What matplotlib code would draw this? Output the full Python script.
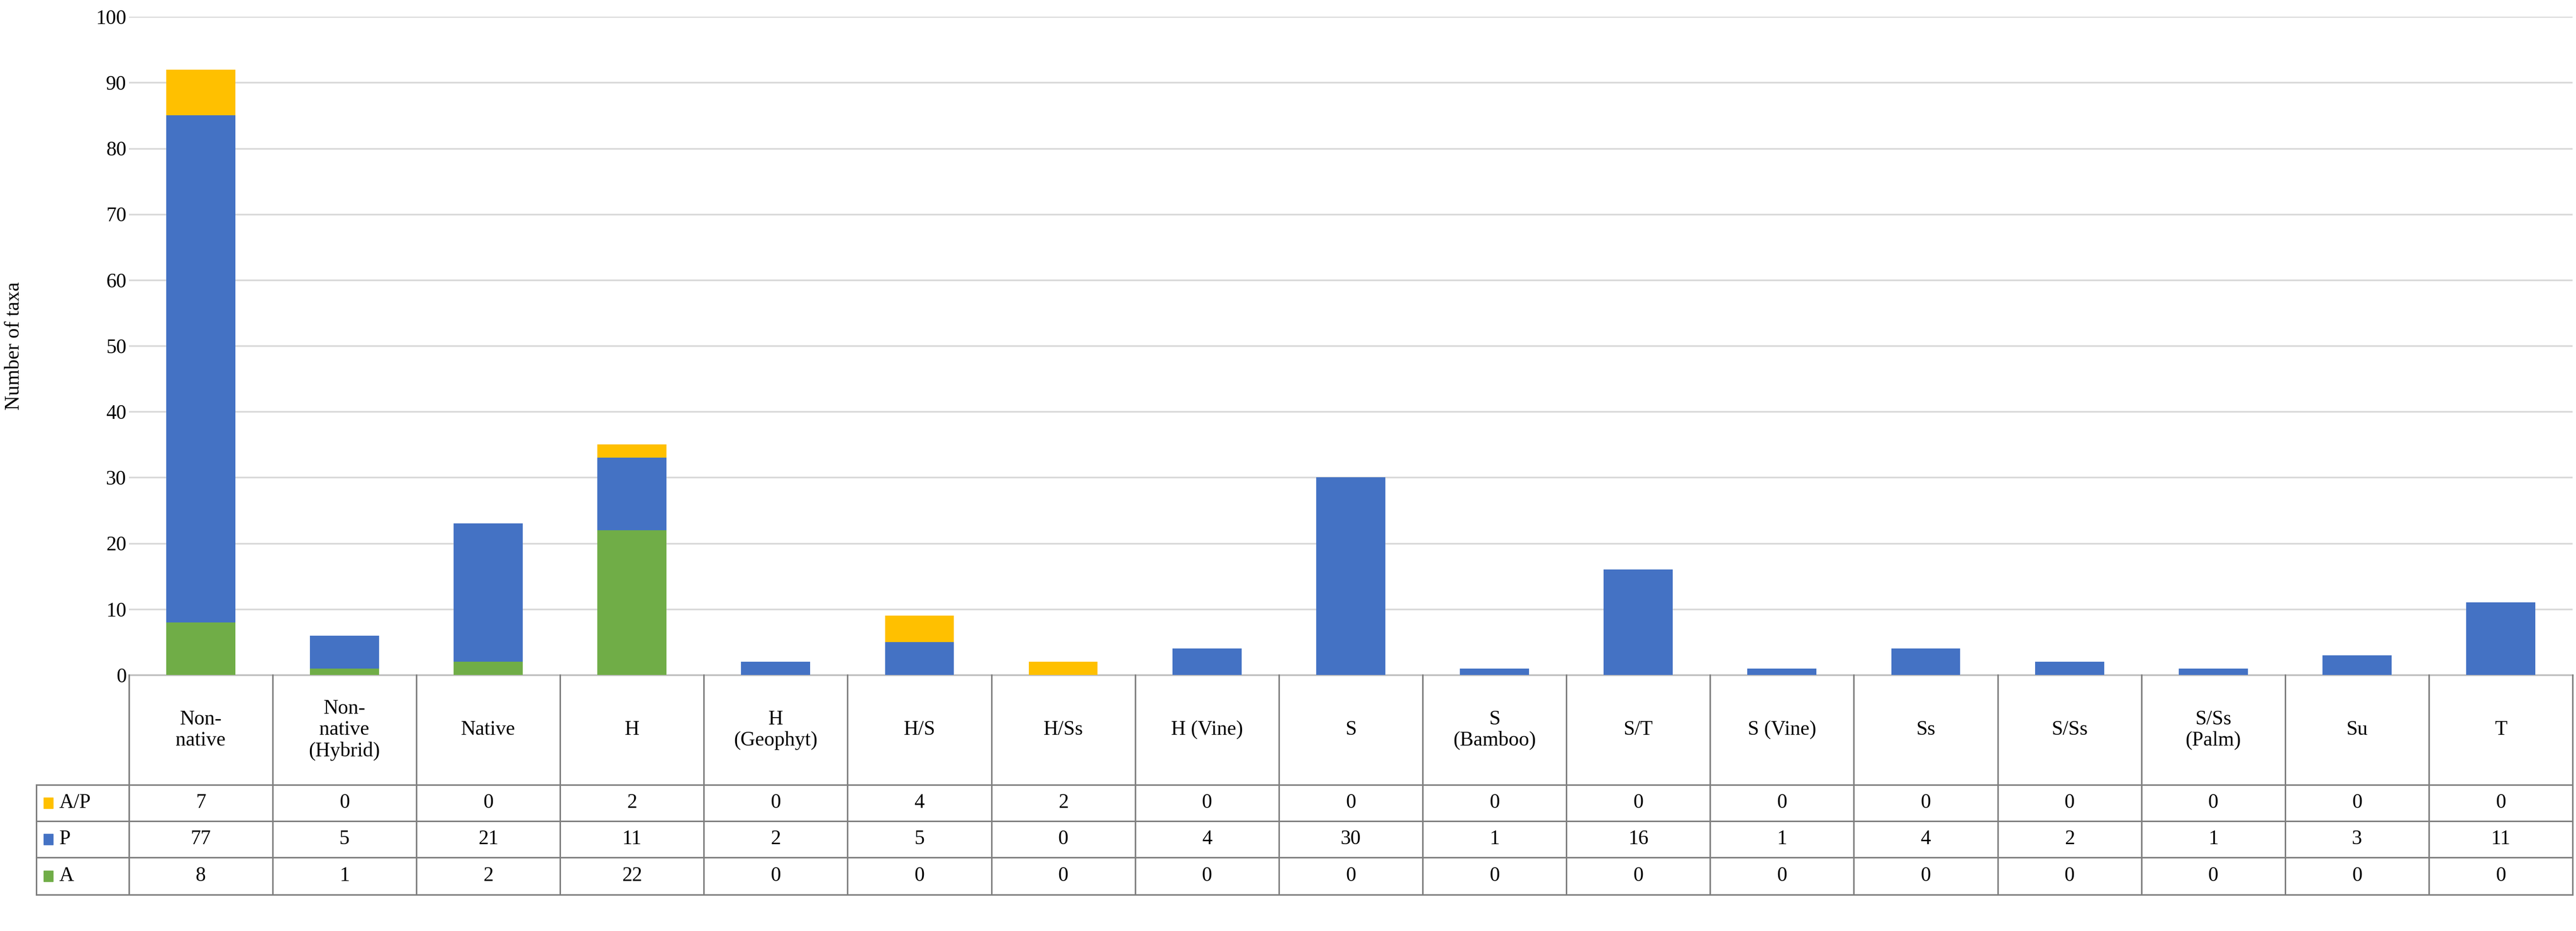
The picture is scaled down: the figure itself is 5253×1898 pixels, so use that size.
import matplotlib
matplotlib.use("Agg")
import matplotlib.pyplot as plt
from matplotlib.lines import Line2D
from matplotlib.patches import Rectangle

categories = ["Non-\nnative", "Non-\nnative\n(Hybrid)", "Native", "H", "H\n(Geophyt)", "H/S", "H/Ss",
              "H (Vine)", "S", "S\n(Bamboo)", "S/T", "S (Vine)", "Ss", "S/Ss", "S/Ss\n(Palm)", "Su", "T"]
A  = [8, 1, 2, 22, 0, 0, 0, 0, 0, 0, 0, 0, 0, 0, 0, 0, 0]
P  = [77, 5, 21, 11, 2, 5, 0, 4, 30, 1, 16, 1, 4, 2, 1, 3, 11]
AP = [7, 0, 0, 2, 0, 4, 2, 0, 0, 0, 0, 0, 0, 0, 0, 0, 0]
series = [("A/P", AP, "#FFC000"), ("P", P, "#4472C4"), ("A", A, "#70AD47")]

plt.rcParams['font.family'] = ['Liberation Serif', 'DejaVu Serif']
fs = 30
fig = plt.figure(figsize=(52.53, 18.98), dpi=100)
L, R, B, T = 0.05, 0.9987, 0.275, 0.982
ax = fig.add_axes([L, B, R - L, T - B])
n = len(categories)
x = list(range(n))
ax.bar(x, A, 0.48, color="#70AD47", zorder=3)
ax.bar(x, P, 0.48, bottom=A, color="#4472C4", zorder=3)
ax.bar(x, AP, 0.48, bottom=[a + p for a, p in zip(A, P)], color="#FFC000", zorder=3)
ax.set_xlim(-0.5, n - 0.5)
ax.set_ylim(0, 100)
ax.set_yticks(range(0, 101, 10))
ax.tick_params(axis='y', labelsize=fs, length=0)
ax.set_xticks([])
ax.grid(axis='y', color="#D9D9D9", linewidth=2.5, zorder=0)
for s in ["top", "right", "left"]:
    ax.spines[s].set_visible(False)
ax.spines["bottom"].set_color("#BFBFBF")
ax.spines["bottom"].set_linewidth(2.5)
ax.set_ylabel("Number of taxa", fontsize=fs)
ax.yaxis.set_label_coords(-0.043, 0.5)

# table
lc = "#7F7F7F"
lw = 2.2
rows_y = [B, 0.157, 0.118, 0.079, 0.039]
LL = 0.014
colw = (R - L) / n
def ln(x0, x1, y0, y1):
    fig.add_artist(Line2D([x0, x1], [y0, y1], color=lc, linewidth=lw, transform=fig.transFigure))
for i in range(n + 1):
    ln(L + i * colw, L + i * colw, B, rows_y[-1])
ln(LL, LL, rows_y[1], rows_y[-1])
for y in rows_y[1:]:
    ln(LL, R, y, y)
for i, c in enumerate(categories):
    fig.text(L + (i + 0.5) * colw, (B + rows_y[1]) / 2, c, ha="center", va="center", fontsize=fs, linespacing=1.15)
for r, (name, vals, col) in enumerate(series):
    yc = (rows_y[r + 1] + rows_y[r + 2]) / 2
    fig.add_artist(Rectangle((LL + 0.003, yc - 0.006), 0.0035, 0.012, color=col, transform=fig.transFigure))
    fig.text(LL + 0.009, yc, name, ha="left", va="center", fontsize=fs)
    for i, v in enumerate(vals):
        fig.text(L + (i + 0.5) * colw, yc, str(v), ha="center", va="center", fontsize=fs)

fig.savefig("out.png", dpi=100, facecolor="white")
